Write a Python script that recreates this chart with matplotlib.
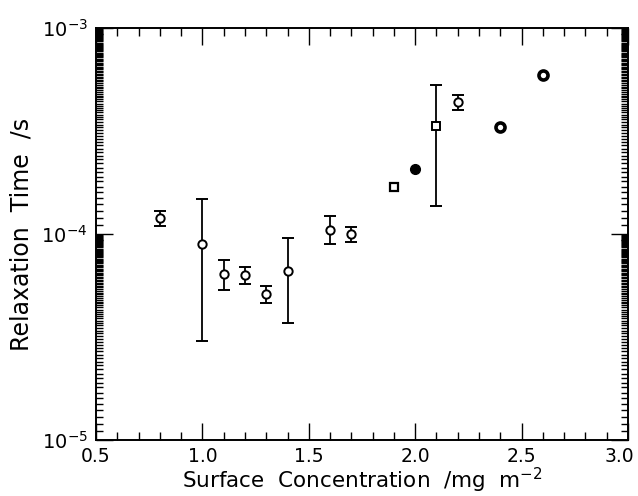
import numpy as np
import matplotlib
matplotlib.use("Agg")
import matplotlib.pyplot as plt
from matplotlib.ticker import FixedLocator, NullFormatter
from matplotlib.transforms import ScaledTranslation

# open circles with error bars
conc_open = [0.8, 1.0, 1.1, 1.2, 1.3, 1.4, 1.6, 1.7, 2.2]
tau_open = [1.20e-4, 8.9e-5, 6.4e-5, 6.3e-5, 5.1e-5, 6.6e-5, 1.05e-4, 1.0e-4, 4.37e-4]
err_lo = [1.09e-4, 3.03e-5, 5.35e-5, 5.7e-5, 4.65e-5, 3.68e-5, 8.9e-5, 9.1e-5, 4.0e-4]
err_hi = [1.29e-4, 1.48e-4, 7.5e-5, 6.9e-5, 5.6e-5, 9.6e-5, 1.22e-4, 1.08e-4, 4.73e-4]

# open square with wide error bar
conc_sq_err = [2.1]
tau_sq_err = [3.34e-4]
sq_lo = [1.37e-4]
sq_hi = [5.31e-4]

# open square, no error bar
conc_sq = [1.9]
tau_sq = [1.69e-4]

# filled circle
conc_fill = [2.0]
tau_fill = [2.07e-4]

# thick-ringed circles
conc_ring = [2.4, 2.6]
tau_ring = [3.30e-4, 5.92e-4]

xticks = [0.5, 1.0, 1.5, 2.0, 2.5, 3.0]
xticklabels = ["0.5", "1.0", "1.5", "2.0", "2.5", "3.0"]

plt.rcParams.update({"font.family": "DejaVu Sans", "font.size": 14})
fig = plt.figure(figsize=(6.38, 4.96), dpi=100)
ax = fig.add_axes([96 / 638, 1 - 440 / 496, (628 - 96) / 638, (440 - 28) / 496])

def yerr(v, lo, hi):
    return [np.array(v) - np.array(lo), np.array(hi) - np.array(v)]

ax.errorbar(conc_open, tau_open, yerr=yerr(tau_open, err_lo, err_hi), fmt="o",
            ms=6, mfc="white", mec="black", mew=1.4, ecolor="black", elinewidth=1.3,
            capsize=4, capthick=1.3)
ax.errorbar(conc_sq_err, tau_sq_err, yerr=yerr(tau_sq_err, sq_lo, sq_hi), fmt="s",
            ms=5.5, mfc="white", mec="black", mew=1.4, ecolor="black", elinewidth=1.3,
            capsize=4, capthick=1.3)
ax.plot(conc_sq, tau_sq, "s", ms=5.5, mfc="white", mec="black", mew=1.6)
ax.plot(conc_fill, tau_fill, "o", ms=7, color="black")
ax.plot(conc_ring, tau_ring, "o", ms=6.5, mfc="white", mec="black", mew=2.6)

ax.set_yscale("log")
ax.set_xlim(0.5, 3.0)
ax.set_ylim(1e-5, 1e-3)
ax.set_xticks(xticks)
ax.set_xticklabels(xticklabels)
ax.xaxis.set_minor_locator(FixedLocator(np.arange(0.6, 3.0, 0.1)))
ax.set_yticks([1e-5, 1e-4, 1e-3])
ax.set_yticklabels([r"$\mathregular{10^{-5}}$", r"$\mathregular{10^{-4}}$", r"$\mathregular{10^{-3}}$"])

# dense linear minor ticks in each decade
minor_y = [k * 1e-6 for k in range(11, 100)] + [k * 1e-5 for k in range(11, 100)]
ax.yaxis.set_minor_locator(FixedLocator(minor_y))
ax.yaxis.set_minor_formatter(NullFormatter())

ax.tick_params(which="both", direction="in", top=True, right=True, width=1.0)
ax.tick_params(which="major", length=12, labelsize=14, pad=6)
ax.tick_params(axis="x", which="major", pad=5, labelsize=13.5)
ax.tick_params(axis="x", which="minor", length=6)
ax.tick_params(axis="y", which="minor", length=5)
for s in ax.spines.values():
    s.set_linewidth(1.4)

# nudge the last x label left so it stays inside the figure
last = ax.get_xticklabels()[-1]
last.set_transform(last.get_transform() + ScaledTranslation(-9 / 100, 0, fig.dpi_scale_trans))

fig.text((96 + 628) / 2 / 638, 8 / 496, r"Surface  Concentration  /mg  m$^{\mathregular{-2}}$",
         fontsize=15.5, ha="center", va="baseline")
ax.set_ylabel("Relaxation  Time  /s", fontsize=17, labelpad=6)

fig.savefig("out.png", dpi=100)
